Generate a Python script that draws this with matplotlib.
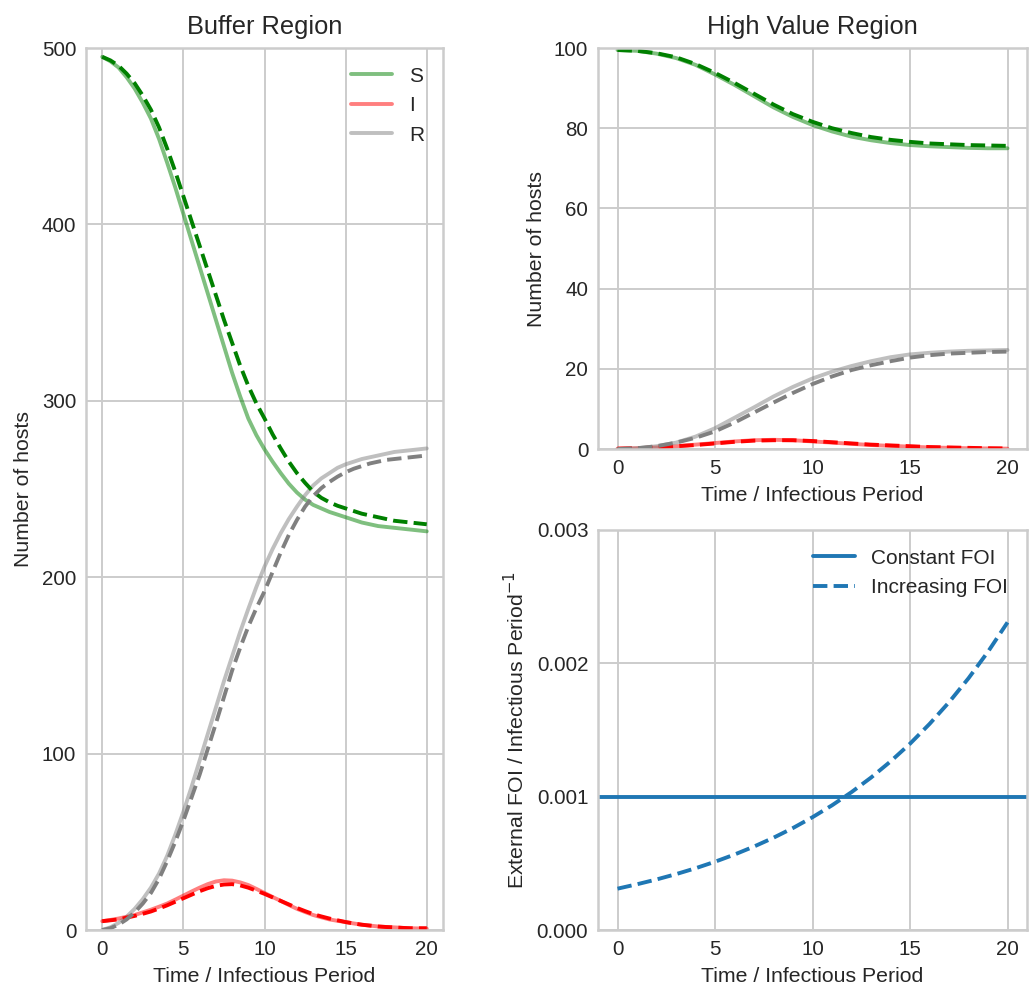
import matplotlib
matplotlib.use("Agg")
import matplotlib.pyplot as plt

# =====================================
# Data
# =====================================

# buffer region is read every half period
time_buf = [i / 2 for i in range(41)]
# high value region and FOI every period
time = list(range(21))

# Buffer region, solid = constant FOI, dashed = increasing FOI
buf_S = [495, 492.5, 489, 483.5, 477, 469, 460, 448.5, 435, 421,
         406, 391, 376, 361, 346, 331, 316, 302.5, 290, 280.5,
         272.5, 265.5, 259, 253, 248, 244, 241, 239, 237, 235.5,
         234, 232.5, 231, 230, 229, 228.5, 228, 227.5, 227, 226.5, 226]
buf_I = [5, 5.7, 6.5, 7.5, 8.5, 10, 11.5, 13.2, 15, 17.2,
         19.5, 21.8, 24, 26, 27.5, 28.2, 28, 27, 25.5, 23.3,
         21, 18.7, 16.5, 14.2, 12, 10.2, 8.5, 7.2, 6, 5.2,
         4.5, 3.7, 3, 2.5, 2, 1.7, 1.5, 1.2, 1, 0.9, 0.8]
buf_R = [0, 1.5, 4, 7.5, 12, 17.5, 24, 32, 42, 54,
         67, 81, 96, 111, 126, 141, 155, 169, 182, 194.5,
         206, 216, 225, 233, 240, 246.5, 252, 256, 259, 262,
         264, 265.5, 267, 268, 269, 270, 271, 271.5, 272, 272.5, 273]

buf_S_inc = [495, 493, 490, 485.5, 480, 473, 465, 455, 443, 430,
             416, 402, 388, 374, 360, 346, 333, 320, 308.5, 298.5,
             290, 281, 273, 265.5, 259, 253.5, 248.5, 245, 242.5, 240.5,
             239, 237.5, 236, 235, 234, 233, 232, 231.5, 231, 230.5, 230]
buf_I_inc = [5, 5.5, 6, 7, 8, 9.2, 10.5, 12.2, 14, 16,
             18, 20, 22, 23.7, 25, 25.8, 26, 25.3, 24, 22.3,
             20.5, 18.5, 16.5, 14.5, 12.5, 10.7, 9, 7.7, 6.5, 5.5,
             4.5, 3.7, 3, 2.5, 2, 1.7, 1.5, 1.2, 1, 1, 1]
buf_R_inc = [0, 1, 3, 6, 10, 15, 21, 29, 39, 50,
             62, 75, 88, 102.5, 117, 132, 147, 160, 172, 182.5,
             192, 203, 214, 224, 232.5, 240, 246, 250.5, 254, 257,
             259.5, 261.5, 263, 264.5, 265.5, 266.5, 267, 267.5, 268, 268.5, 269]

# High value region
hv_S = [99.5, 99.3, 98.6, 97.5, 95.8, 93.4, 90.8, 88.0, 85.2, 82.8, 80.8,
        79.2, 77.9, 77.0, 76.3, 75.8, 75.5, 75.3, 75.1, 75.0, 75.0]
hv_I = [0.1, 0.2, 0.4, 0.7, 1.1, 1.5, 1.9, 2.2, 2.3, 2.2, 1.9,
        1.6, 1.3, 1.0, 0.8, 0.6, 0.4, 0.3, 0.2, 0.15, 0.1]
hv_R = [0, 0.2, 0.7, 1.6, 3.1, 5.2, 7.8, 10.4, 13.1, 15.5, 17.6,
        19.3, 20.7, 21.9, 22.9, 23.6, 24.0, 24.3, 24.5, 24.6, 24.7]

hv_S_inc = [99.5, 99.3, 98.7, 97.7, 96.0, 93.8, 91.3, 88.6, 85.9, 83.5, 81.6,
            80.0, 78.8, 77.8, 77.1, 76.6, 76.2, 76.0, 75.8, 75.7, 75.6]
hv_I_inc = [0.1, 0.2, 0.4, 0.7, 1.0, 1.4, 1.8, 2.1, 2.2, 2.2, 2.0,
            1.7, 1.4, 1.1, 0.9, 0.7, 0.5, 0.4, 0.3, 0.2, 0.15]
hv_R_inc = [0, 0.2, 0.7, 1.6, 2.8, 4.4, 6.6, 9.1, 11.6, 14.0, 16.2,
            18.1, 19.7, 20.9, 21.9, 22.8, 23.4, 23.8, 24.0, 24.2, 24.3]

# External force of infection
foi_const = 0.001
foi_inc = [0.000310, 0.000343, 0.000379, 0.000419, 0.000463, 0.000512,
           0.000566, 0.000626, 0.000692, 0.000765, 0.000846, 0.000935,
           0.001034, 0.001143, 0.001264, 0.001397, 0.001545, 0.001708,
           0.001888, 0.002087, 0.002307]

# =====================================
# Style
# =====================================

plt.style.use("seaborn-v0_8-whitegrid")
plt.rcParams.update({
    "font.family": ["Liberation Sans", "DejaVu Sans"],
    "axes.edgecolor": "#cccccc",
    "grid.color": "#cccccc",
    "axes.linewidth": 1.8,
    "grid.linewidth": 1.4,
    "xtick.labelsize": 14.8,
    "ytick.labelsize": 14.8,
    "axes.labelsize": 15.3,
    "axes.titlesize": 18.3,
    "legend.fontsize": 15,
    "text.color": "#262626",
    "axes.labelcolor": "#262626",
    "xtick.color": "#262626",
    "ytick.color": "#262626",
    "xtick.major.pad": 7,
    "ytick.major.pad": 7,
    "axes.labelpad": 6,
    "lines.linewidth": 2.8,
})

fig = plt.figure(figsize=(10.3, 9.88), dpi=100)

ax_buf = fig.add_axes([0.0835, 0.0587, 0.3466, 0.8927])
ax_hv = fig.add_axes([0.5806, 0.5455, 0.4165, 0.4059])
ax_foi = fig.add_axes([0.5806, 0.0587, 0.4165, 0.4049])

# =====================================
# Buffer region
# =====================================

ax_buf.plot(time_buf, buf_S, color="green", alpha=0.5, label="S")
ax_buf.plot(time_buf, buf_I, color="red", alpha=0.5, label="I")
ax_buf.plot(time_buf, buf_R, color="grey", alpha=0.5, label="R")
ax_buf.plot(time_buf, buf_S_inc, color="green", linestyle="--")
ax_buf.plot(time_buf, buf_I_inc, color="red", linestyle="--")
ax_buf.plot(time_buf, buf_R_inc, color="grey", linestyle="--")

ax_buf.set_ylim(0, 500)
ax_buf.set_xlim(-1, 21)
ax_buf.set_xticks([0, 5, 10, 15, 20])
ax_buf.set_yticks([0, 100, 200, 300, 400, 500])
ax_buf.set_title("Buffer Region", pad=10)
ax_buf.set_xlabel("Time / Infectious Period")
ax_buf.set_ylabel("Number of hosts")
ax_buf.legend(loc="upper right")

# =====================================
# High value region
# =====================================

ax_hv.plot(time, hv_S, color="green", alpha=0.5)
ax_hv.plot(time, hv_I, color="red", alpha=0.5)
ax_hv.plot(time, hv_R, color="grey", alpha=0.5)
ax_hv.plot(time, hv_S_inc, color="green", linestyle="--")
ax_hv.plot(time, hv_I_inc, color="red", linestyle="--")
ax_hv.plot(time, hv_R_inc, color="grey", linestyle="--")

ax_hv.set_ylim(0, 100)
ax_hv.set_xlim(-1, 21)
ax_hv.set_xticks([0, 5, 10, 15, 20])
ax_hv.set_yticks([0, 20, 40, 60, 80, 100])
ax_hv.set_title("High Value Region", pad=10)
ax_hv.set_xlabel("Time / Infectious Period")
ax_hv.set_ylabel("Number of hosts")

# =====================================
# External FOI
# =====================================

ax_foi.axhline(foi_const, color="#1f77b4", label="Constant FOI")
ax_foi.plot(time, foi_inc, color="#1f77b4", linestyle="--",
            label="Increasing FOI")

ax_foi.set_ylim(0, 0.003)
ax_foi.set_xlim(-1, 21)
ax_foi.set_xticks([0, 5, 10, 15, 20])
ax_foi.set_yticks([0, 0.001, 0.002, 0.003])
ax_foi.set_yticklabels(["0.000", "0.001", "0.002", "0.003"])
ax_foi.set_xlabel("Time / Infectious Period")
ax_foi.set_ylabel("External FOI / Infectious Period$^{-1}$")
ax_foi.legend(loc="upper right")

fig.savefig("out.png", dpi=100)
